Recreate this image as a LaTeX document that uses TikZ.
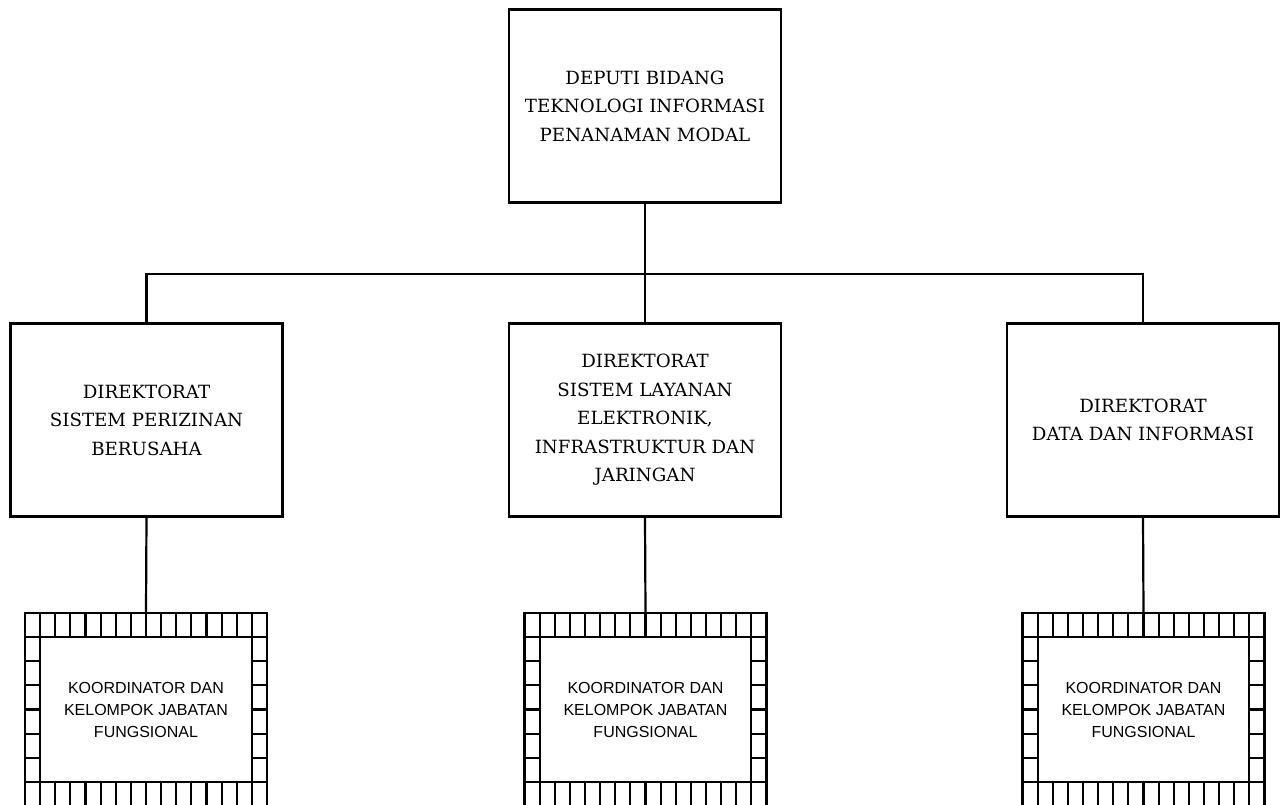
\documentclass[tikz,border=0pt]{standalone}
\usepackage{fontspec}
\newfontfamily\groupfont{Liberation Sans}
\newfontfamily\unitserif{DejaVu Serif}
\newcommand\unitfont{\unitserif\fontsize{18.2}{28.5}\selectfont}
\newcommand\grpfont{\groupfont\fontsize{16}{22}\selectfont}
\tikzset{
  rule/.style={line width=2.2pt},
  unitbox/.style={draw, rule, minimum width=272pt, minimum height=193pt,
    align=center, font=\unitfont, inner sep=0pt},
  frame/.style={draw, rule, minimum width=242pt, minimum height=193pt, inner sep=0pt},
  grpbox/.style={draw, rule, fill=white, minimum width=211.75pt, minimum height=144.75pt,
    align=center, font=\grpfont, inner sep=0pt},
}
% cell grid around a functional-group box: 16 columns x 8 rows
\newcommand\cellgrid[1]{%
  \begin{scope}[shift={(#1.center)}]
    \foreach \i in {1,...,15} {
      \draw[rule] (-121+\i*15.125,-96.5) -- (-121+\i*15.125,-72.375);
      \draw[rule] (-121+\i*15.125,96.5) -- (-121+\i*15.125,72.375);
    }
    \draw[rule] (-121,-72.375) -- (121,-72.375);
    \draw[rule] (-121,72.375) -- (121,72.375);
    \foreach \j in {2,...,6} {
      \draw[rule] (-121,-96.5+\j*24.125) -- (-105.875,-96.5+\j*24.125);
      \draw[rule] (121,-96.5+\j*24.125) -- (105.875,-96.5+\j*24.125);
    }
  \end{scope}}
\begin{document}
\begin{tikzpicture}[x=1pt,y=-1pt]
  \useasboundingbox (0,0) rectangle (1286,805);
  \clip (0,0) rectangle (1286,805);

  \node[unitbox] (top) at (645,106) {DEPUTI BIDANG\\TEKNOLOGI INFORMASI\\PENANAMAN MODAL};

  \node[unitbox] (d1) at (146.5,420) {DIREKTORAT\\SISTEM PERIZINAN\\BERUSAHA};
  \node[unitbox] (d2) at (645,420) {DIREKTORAT\\SISTEM LAYANAN\\ELEKTRONIK,\\INFRASTRUKTUR DAN\\JARINGAN};
  \node[unitbox] (d3) at (1143,420) {DIREKTORAT\\DATA DAN INFORMASI};

  % organisational bus
  \coordinate (busL) at (d1.north |- 0,274);
  \coordinate (busR) at (d3.north |- 0,274);
  \draw[rule] (d1.north) -- (busL) -- (busR) -- (d3.north);
  \draw[rule] (top.south) -- (top.south |- busL);
  \draw[rule] (d2.north) -- (d2.north |- busL);

  % functional groups
  \foreach \n/\x in {1/146, 2/645.5, 3/1143.5} {
    \node[frame] (f\n) at (\x,709.5) {};
    \cellgrid{f\n}
    \node[grpbox] (k\n) at (f\n.center) {KOORDINATOR DAN\\KELOMPOK JABATAN\\FUNGSIONAL};
    \draw[rule] (d\n.south) -- (f\n.north);
  }
\end{tikzpicture}
\end{document}
